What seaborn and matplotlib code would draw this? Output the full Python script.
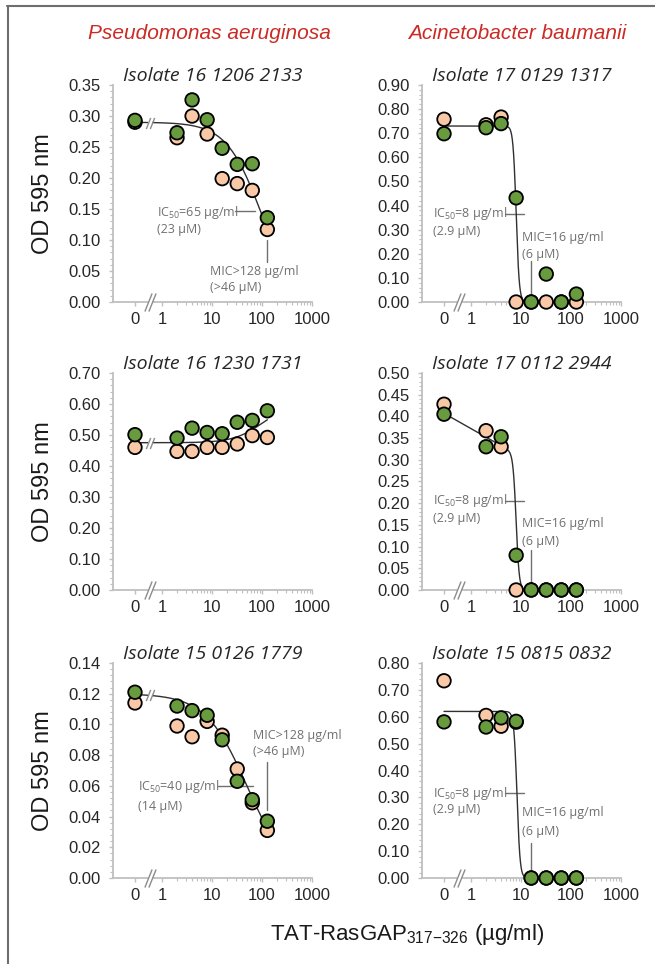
import numpy as np
import pandas as pd
import seaborn as sns
import matplotlib.pyplot as plt
from matplotlib.lines import Line2D
from matplotlib.ticker import FixedLocator, MultipleLocator, AutoMinorLocator, NullFormatter, FormatStrFormatter

sns.set_style('ticks')
plt.rcParams['font.family'] = ['Liberation Sans', 'DejaVu Sans']
plt.rcParams['mathtext.fontset'] = 'custom'
plt.rcParams['mathtext.rm'] = 'Liberation Sans'

# concentrations of TAT-RasGAP317-326 (ug/ml)
conc = [0, 2, 4, 8, 16, 32, 64, 128]

# P. aeruginosa isolates (left column)
pa1_green = [0.293, 0.273, 0.326, 0.294, 0.248, 0.222, 0.223, 0.136]
pa1_peach = [0.290, 0.265, 0.300, 0.271, 0.199, 0.191, 0.180, 0.117]
pa2_green = [0.501, 0.490, 0.522, 0.508, 0.504, 0.541, 0.547, 0.578]
pa2_peach = [0.460, 0.447, 0.447, 0.460, 0.460, 0.471, 0.498, 0.492]
pa3_green = [0.121, 0.112, 0.109, 0.106, 0.090, 0.063, 0.051, 0.037]
pa3_peach = [0.114, 0.099, 0.092, 0.102, 0.093, 0.071, 0.049, 0.031]

# A. baumanii isolates (right column)
ab1_green = [0.698, 0.723, 0.740, 0.432, 0.0, 0.116, 0.0, 0.033]
ab1_peach = [0.758, 0.735, 0.767, 0.0, 0.0, 0.0, 0.0, 0.0]
ab2_green = [0.405, 0.330, 0.353, 0.080, 0.0, 0.0, 0.0, 0.0]
ab2_peach = [0.428, 0.367, 0.330, 0.0, 0.0, 0.0, 0.0, 0.0]
ab3_green = [0.581, 0.562, 0.596, 0.583, 0.0, 0.0, 0.0, 0.0]
ab3_peach = [0.734, 0.605, 0.565, 0.580, 0.0, 0.0, 0.0, 0.0]

titles = ['Isolate 16 1206 2133', 'Isolate 17 0129 1317',
          'Isolate 16 1230 1731', 'Isolate 17 0112 2944',
          'Isolate 15 0126 1779', 'Isolate 15 0815 0832']
ymaxes = [0.35, 0.90, 0.70, 0.50, 0.14, 0.80]
ysteps = [0.05, 0.10, 0.10, 0.05, 0.02, 0.10]

# dose-response fit: top, bottom, IC50, hill slope, gentle slope of the top
fit_top = [0.290, 0.730, 0.475, 0.407, 0.120, 0.620]
fit_bottom = [0.0, 0.0, 0.600, 0.0, 0.0, 0.0]
fit_ic50 = [95, 8.0, 100, 8.0, 50, 8.3]
fit_hill = [1.25, 14, 1.5, 14, 1.05, 14]
fit_drift = [0.0, 0.0, 0.0, 0.065, 0.0, 0.0]

GREEN = '#689a3e'
PEACH = '#f9c8a6'
ANN = '#707070'
ZERO = 10 ** -0.54   # where "0" sits on the broken log axis
BREAK = 10 ** -0.24


def fit_curve(x, i):
    top = fit_top[i] - fit_drift[i] * (np.log10(x) - np.log10(ZERO))
    return fit_bottom[i] + (top - fit_bottom[i]) / (1 + (x / fit_ic50[i]) ** fit_hill[i])


def add_break(ax, y, trans, ms, gap):
    f = 10 ** (2.4 / 50)
    ax.plot([BREAK / f, BREAK * f], [y, y], color='white', lw=gap, transform=trans,
            clip_on=False, zorder=5, solid_capstyle='butt')
    ax.plot([BREAK / f, BREAK * f], [y, y], ls='none', marker=[(-0.4, -1), (0.4, 1)],
            ms=ms, mec='#8c8c8c', mfc='none', mew=1, transform=trans, clip_on=False, zorder=6)


fig = plt.figure(figsize=(6.55, 9.64), dpi=100)

# frame of the original figure
fig.add_artist(Line2D([0.0107, 1], [0.9938, 0.9938], color='#6e6e6e', lw=1.5, transform=fig.transFigure))
fig.add_artist(Line2D([0.0115, 0.0115], [0, 0.9938], color='#6e6e6e', lw=1.5, transform=fig.transFigure))

lefts = [0.1725, 0.6443]
bottoms = [0.6867, 0.3880, 0.0892]
heights = [0.2251, 0.2251, 0.2230]

green_sets = [pa1_green, ab1_green, pa2_green, ab2_green, pa3_green, ab3_green]
peach_sets = [pa1_peach, ab1_peach, pa2_peach, ab2_peach, pa3_peach, ab3_peach]

axes = []
for i in range(6):
    r, c = divmod(i, 2)
    ax = fig.add_axes([lefts[c], bottoms[r], 0.3038, heights[r]])
    axes.append(ax)
    xpos = [ZERO if v == 0 else v for v in conc]
    df = pd.DataFrame({'x': xpos * 2,
                       'od': peach_sets[i] + green_sets[i],
                       'rep': ['peach'] * len(conc) + ['green'] * len(conc)})
    xs = np.geomspace(ZERO, 128, 600)
    sns.lineplot(x=xs, y=fit_curve(xs, i), ax=ax, color='#303030', linewidth=1.0,
                 estimator=None, sort=False, zorder=3)
    sns.scatterplot(data=df, x='x', y='od', hue='rep', palette={'peach': PEACH, 'green': GREEN},
                    s=95, edgecolor='black', linewidth=1.3, legend=False, ax=ax,
                    zorder=4, clip_on=False)

    ax.set_xscale('log')
    ax.set_xlim(10 ** -0.98, 1000)
    ax.set_ylim(0, ymaxes[i])
    ax.xaxis.set_major_locator(FixedLocator([ZERO, 1, 10, 100, 1000]))
    ax.xaxis.set_minor_locator(FixedLocator([k * 10 ** d for d in range(3) for k in range(2, 10)]))
    ax.xaxis.set_minor_formatter(NullFormatter())
    ax.set_xticklabels(['0', '1', '10', '100', '1000'])
    ax.yaxis.set_major_locator(MultipleLocator(ysteps[i]))
    ax.yaxis.set_minor_locator(AutoMinorLocator(5))
    ax.yaxis.set_major_formatter(FormatStrFormatter('%.2f'))
    ax.set_xlabel('')
    ax.set_ylabel('')
    for s in ['top', 'right']:
        ax.spines[s].set_visible(False)
    for s in ['left', 'bottom']:
        ax.spines[s].set_color('#bfbfbf')
        ax.spines[s].set_linewidth(1.3)
    ax.tick_params(which='both', color='#bfbfbf', labelcolor='#262626', labelsize=12)
    ax.tick_params(which='major', length=3, width=1)
    ax.tick_params(which='minor', length=2.2, width=0.8)
    ax.tick_params(axis='y', which='major', pad=6)
    ax.tick_params(axis='x', which='major', pad=4)
    ax.set_title(titles[i], fontfamily='Open Sans', fontstyle='italic', fontsize=14,
                 color='#262626', pad=3)

    add_break(ax, 0, ax.get_xaxis_transform(), 13, 3)
    if c == 0:
        add_break(ax, float(fit_curve(np.array([BREAK]), i)[0]), ax.transData, 8, 3)

ann = dict(fontfamily='Open Sans', fontsize=9, color=ANN, va='center', ha='left')

# P. aeruginosa 16 1206 2133
ax = axes[0]
ax.text(0.79, 0.145, r'IC$_{\mathregular{50}}$=65 µg/ml', **ann)
ax.text(0.79, 0.117, '(23 µM)', **ann)
ax.plot([28.8, 72], [0.147, 0.147], color=ANN, lw=1)
ax.plot([128, 128], [0.100, 0.064], color=ANN, lw=1)
ax.text(9.1, 0.050, 'MIC>128 µg/ml', **ann)
ax.text(9.1, 0.024, '(>46 µM)', **ann)

# P. aeruginosa 15 0126 1779
ax = axes[4]
ax.text(0.33, 0.0593, r'IC$_{\mathregular{50}}$=40 µg/ml', **ann)
ax.text(0.33, 0.0467, '(14 µM)', **ann)
ax.plot([13.2, 66], [0.0597, 0.0597], color=ANN, lw=1)
ax.plot([128, 128], [0.0754, 0.0445], color=ANN, lw=1)
ax.text(66, 0.0927, 'MIC>128 µg/ml', clip_on=False, **ann)
ax.text(66, 0.0825, '(>46 µM)', **ann)

# A. baumanii panels
ab_ann = [(axes[1], 0.367, 0.294, 0.266, 0.197, 0.170, 0.013),
          (axes[3], 0.205, 0.164, 0.153, 0.112, 0.093, 0.015),
          (axes[5], 0.316, 0.254, 0.242, 0.174, 0.130, 0.012)]
for ax, y_ic, y_ic2, y_mic, y_mic2, v0, v1 in ab_ann:
    ax.text(0.174, y_ic, r'IC$_{\mathregular{50}}$=8 µg/ml', **ann)
    ax.text(0.174, y_ic2, '(2.9 µM)', **ann)
    ax.plot([4.8, 11.5], [y_ic, y_ic], color=ANN, lw=1)
    ax.text(10.5, y_mic, 'MIC=16 µg/ml', **ann)
    ax.text(10.5, y_mic2, '(6 µM)', **ann)
    ax.plot([16, 16], [v0, v1], color=ANN, lw=1)

# species headers
fig.text(0.32, 0.9648, 'Pseudomonas aeruginosa', ha='center', va='center',
         fontsize=15, fontstyle='italic', color='#cc2a24')
fig.text(0.789, 0.9648, 'Acinetobacter baumanii', ha='center', va='center',
         fontsize=15, fontstyle='italic', color='#cc2a24')

# shared axis labels
for r in range(3):
    fig.text(0.066, bottoms[r] + heights[r] / 2, 'OD 595 nm', rotation=90,
             ha='center', va='center', fontsize=17, color='#1a1a1a')
fig.text(0.621, 0.031, r'TAT-RasGAP$_{\mathregular{317{-}326}}$ (µg/ml)', ha='center',
         va='center', fontsize=16, color='#1a1a1a')

fig.savefig('out.png', dpi=100)
